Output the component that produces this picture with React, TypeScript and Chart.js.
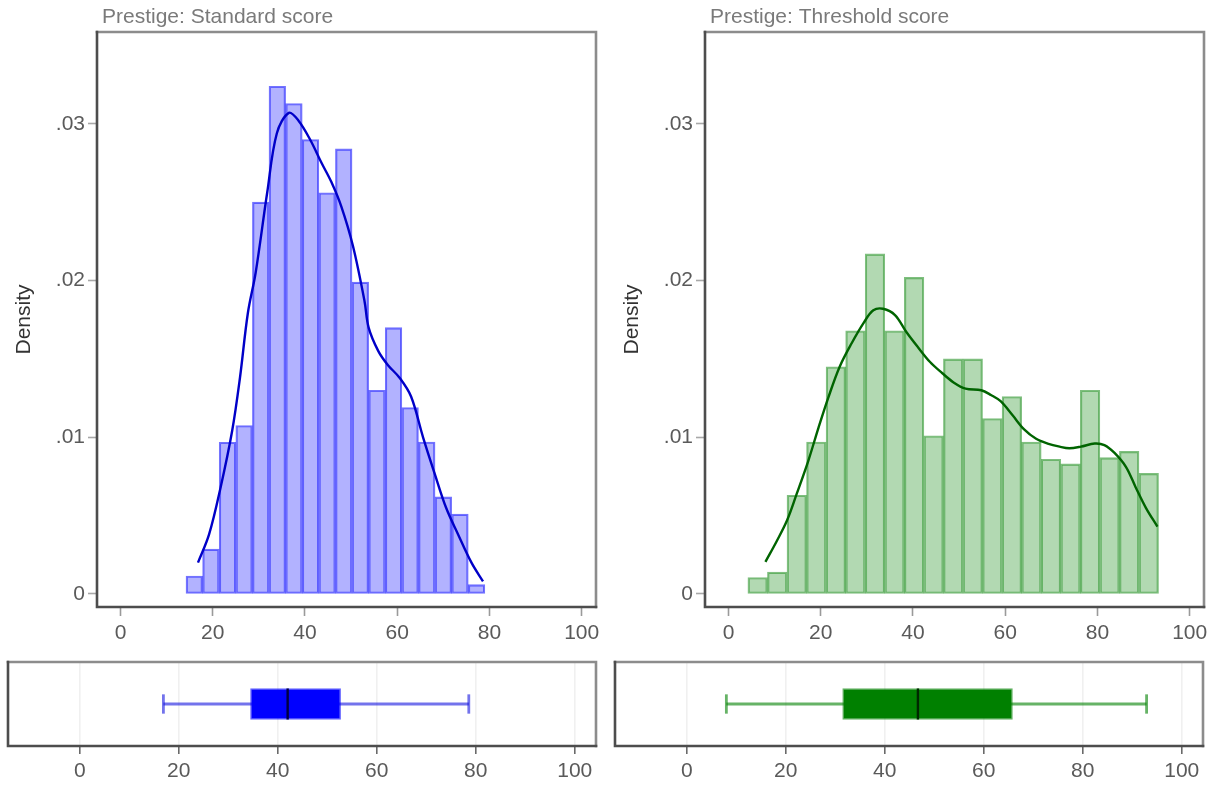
import React, { useEffect, useRef } from 'react';
import { Chart, registerables } from 'chart.js';

Chart.register(...registerables);

const FONT_FAMILY = '"Liberation Sans", Arial, Helvetica, sans-serif';

// ---------- shared axis values ----------
const X_TICKS = [0, 20, 40, 60, 80, 100];
const Y_TICKS = [0, 0.01, 0.02, 0.03];
const Y_TICK_LABELS = ['0', '.01', '.02', '.03'];
const Y_TITLE = 'Density';

// ---------- Prestige: Standard score ----------
const STD_TITLE = 'Prestige: Standard score';
const STD_BIN_EDGES = [14.2, 17.8, 21.4, 25.0, 28.6, 32.2, 35.8, 39.4, 43.0, 46.6, 50.2, 53.8, 57.4, 61.0, 64.6, 68.2, 71.8, 75.4, 79.0];
const STD_DENSITY = [0.00115, 0.00286, 0.00968, 0.01075, 0.025, 0.0324, 0.0313, 0.029, 0.0256, 0.0284, 0.0199, 0.013, 0.017, 0.0119, 0.0097, 0.0062, 0.0051, 0.0006];
const STD_KDE_X = [16.8, 19.2, 21.7, 24.2, 25.9, 27.6, 29.3, 31.8, 33.9, 36.5, 38.6, 41.1, 43.6, 45.7, 47.9, 50.4, 52.9, 53.8, 55.9, 58.0, 60.5, 63.0, 65.6, 68.1, 70.6, 73.2, 76.1, 78.6];
const STD_KDE_Y = [0.002, 0.0038, 0.0068, 0.0104, 0.0138, 0.0179, 0.0205, 0.0256, 0.0294, 0.0307, 0.0302, 0.029, 0.0275, 0.0263, 0.0247, 0.0222, 0.0187, 0.017, 0.0155, 0.0146, 0.0138, 0.0126, 0.01, 0.0077, 0.0055, 0.0038, 0.002, 0.0008];
// min, q1, median, q3, max
const STD_BOX_STATS = [16.9, 34.5, 42.0, 52.7, 78.6];

// ---------- Prestige: Threshold score ----------
const THR_TITLE = 'Prestige: Threshold score';
const THR_BIN_EDGES = [4.2, 8.44, 12.68, 16.92, 21.16, 25.4, 29.64, 33.88, 38.12, 42.36, 46.6, 50.84, 55.08, 59.32, 63.56, 67.8, 72.04, 76.28, 80.52, 84.76, 89.0, 93.24];
const THR_DENSITY = [0.00105, 0.0014, 0.0063, 0.0097, 0.0145, 0.0168, 0.0217, 0.0168, 0.0202, 0.0101, 0.015, 0.015, 0.0112, 0.0126, 0.0097, 0.0086, 0.0083, 0.013, 0.0087, 0.0091, 0.0077];
const THR_KDE_X = [8.0, 10.5, 12.7, 14.8, 17.3, 19.5, 21.6, 24.1, 26.7, 29.3, 31.4, 33.5, 36.1, 38.6, 41.2, 43.7, 46.3, 48.8, 51.4, 54.8, 56.9, 59.0, 61.6, 64.1, 66.7, 69.2, 71.8, 73.9, 76.4, 79.4, 81.5, 83.7, 86.2, 88.3, 90.5, 93.0];
const THR_KDE_Y = [0.00205, 0.0034, 0.0047, 0.0064, 0.0085, 0.0106, 0.0125, 0.0145, 0.016, 0.0173, 0.0181, 0.0182, 0.0178, 0.0167, 0.0157, 0.0148, 0.0141, 0.0135, 0.0131, 0.013, 0.0127, 0.0123, 0.0114, 0.0105, 0.0099, 0.0096, 0.0094, 0.0093, 0.0094, 0.0096, 0.0095, 0.009, 0.0081, 0.0068, 0.0055, 0.0043];
const THR_BOX_STATS = [8.0, 31.5, 46.7, 65.8, 92.9];

// ---------- layout / style constants ----------
const HIST_W = 608;
const HIST_H = 650;
const BOX_W = 608;
const BOX_H = 136;
const HIST_X_RANGE = [-5.1, 103.1];
const HIST_Y_RANGE = [-0.00083, 0.03586];
const BOX_X_RANGE = [-14.5, 104.3];
const BOX_HALF = 0.37; // half box height in y units
const CAP_HALF = 0.23; // half whisker cap height in y units
const TITLE_INDENT = 5; // px from plot-region left edge

const framePlugin = {
  id: 'stataFrame',
  afterLayout(chart: any) {
    const tb = chart.titleBlock;
    if (tb && tb.options && tb.options.display) {
      tb.left += TITLE_INDENT;
      tb.right += TITLE_INDENT;
    }
  },
  afterDatasetsDraw(chart: any) {
    const { ctx, chartArea } = chart;
    const { left, top, right, bottom } = chartArea;
    ctx.save();
    ctx.lineWidth = 2.6;
    ctx.lineCap = 'square';
    ctx.strokeStyle = '#8c8c8c';
    ctx.beginPath();
    ctx.moveTo(left, top);
    ctx.lineTo(right, top);
    ctx.lineTo(right, bottom);
    ctx.stroke();
    ctx.strokeStyle = '#4d4d4d';
    ctx.beginPath();
    ctx.moveTo(left, top);
    ctx.lineTo(left, bottom);
    ctx.lineTo(right, bottom);
    ctx.stroke();
    ctx.restore();
  },
};

const tickFont = { family: FONT_FAMILY, size: 21, weight: 'normal' as const };

type HistProps = {
  left: number;
  title: string;
  edges: number[];
  density: number[];
  kdeX: number[];
  kdeY: number[];
  fill: string;
  edge: string;
  line: string;
};

function HistPanel(p: HistProps) {
  const ref = useRef<HTMLCanvasElement>(null);
  useEffect(() => {
    const centers = p.density.map((_, i) => (p.edges[i] + p.edges[i + 1]) / 2);
    const chart = new Chart(ref.current as HTMLCanvasElement, {
      type: 'bar',
      data: {
        datasets: [
          {
            type: 'line',
            data: p.kdeX.map((x, i) => ({ x, y: p.kdeY[i] })),
            borderColor: p.line,
            borderWidth: 2.4,
            pointRadius: 0,
            tension: 0.35,
            fill: false,
            order: 0,
          } as any,
          {
            type: 'bar',
            data: centers.map((x, i) => ({ x, y: p.density[i] })),
            backgroundColor: p.fill,
            borderColor: p.edge,
            borderWidth: 1.5,
            borderSkipped: false,
            barPercentage: 1,
            categoryPercentage: 1,
            order: 1,
          } as any,
        ],
      },
      options: {
        animation: false,
        responsive: false,
        layout: { padding: { left: 0, right: 12, top: 0, bottom: 0 } },
        plugins: {
          legend: { display: false },
          tooltip: { enabled: false },
          title: {
            display: true,
            text: p.title,
            align: 'start',
            fullSize: false,
            color: '#7a7a7a',
            font: { family: FONT_FAMILY, size: 21, weight: 'normal' },
            padding: { top: 5, bottom: 1.8 },
          },
        },
        scales: {
          x: {
            type: 'linear',
            min: HIST_X_RANGE[0],
            max: HIST_X_RANGE[1],
            offset: false,
            afterBuildTicks: (s: any) => {
              s.ticks = X_TICKS.map((v) => ({ value: v }));
            },
            afterFit: (s: any) => {
              s.height = 43;
            },
            grid: {
              offset: false,
              drawOnChartArea: false,
              drawTicks: true,
              tickLength: 9,
              tickColor: '#9a9a9a',
              tickWidth: 1.6,
            },
            border: { display: false },
            ticks: {
              color: '#5a5a5a',
              font: tickFont,
              padding: 5,
              maxRotation: 0,
              autoSkip: false,
            },
          },
          y: {
            type: 'linear',
            min: HIST_Y_RANGE[0],
            max: HIST_Y_RANGE[1],
            offset: false,
            afterBuildTicks: (s: any) => {
              s.ticks = Y_TICKS.map((v) => ({ value: v }));
            },
            afterFit: (s: any) => {
              s.width = 97;
            },
            grid: {
              offset: false,
              drawOnChartArea: false,
              drawTicks: true,
              tickLength: 9,
              tickColor: '#a8a8a8',
              tickWidth: 1.6,
            },
            border: { display: false },
            ticks: {
              color: '#5a5a5a',
              font: tickFont,
              padding: 3,
              autoSkip: false,
              callback: (v: any) => {
                const i = Y_TICKS.indexOf(Number(v));
                return i >= 0 ? Y_TICK_LABELS[i] : '';
              },
            },
            title: {
              display: true,
              text: Y_TITLE,
              color: '#333333',
              font: { family: FONT_FAMILY, size: 21, weight: 'normal' },
              padding: { top: 12, bottom: 0 },
            },
          },
        },
      } as any,
      plugins: [framePlugin],
    });
    return () => chart.destroy();
  }, []);
  return (
    <canvas
      ref={ref}
      width={HIST_W}
      height={HIST_H}
      style={{ position: 'absolute', left: p.left, top: 0, width: HIST_W, height: HIST_H, display: 'block' }}
    />
  );
}

type BoxProps = {
  left: number;
  top: number;
  stats: number[];
  boxFill: string;
  boxEdge: string;
  whisker: string;
  median: string;
};

function BoxPanel(p: BoxProps) {
  const ref = useRef<HTMLCanvasElement>(null);
  useEffect(() => {
    const [mn, q1, med, q3, mx] = p.stats;
    const lineDs = (data: { x: number; y: number }[], color: string, width: number, order: number) =>
      ({
        type: 'line',
        data,
        borderColor: color,
        borderWidth: width,
        pointRadius: 0,
        fill: false,
        order,
      } as any);
    const chart = new Chart(ref.current as HTMLCanvasElement, {
      type: 'bar',
      data: {
        datasets: [
          lineDs([{ x: mn, y: 0 }, { x: mx, y: 0 }], p.whisker, 2.8, 3),
          lineDs([{ x: mn, y: -CAP_HALF }, { x: mn, y: CAP_HALF }], p.whisker, 2.8, 3),
          lineDs([{ x: mx, y: -CAP_HALF }, { x: mx, y: CAP_HALF }], p.whisker, 2.8, 3),
          {
            type: 'bar',
            indexAxis: 'y',
            data: [{ x: [q1, q3], y: 0 }],
            backgroundColor: p.boxFill,
            borderColor: p.boxEdge,
            borderWidth: 1.5,
            borderSkipped: false,
            barThickness: 31,
            order: 1,
          } as any,
          lineDs([{ x: med, y: -BOX_HALF }, { x: med, y: BOX_HALF }], p.median, 2.4, 0),
        ],
      },
      options: {
        animation: false,
        responsive: false,
        layout: { padding: { left: 8, right: 12, top: 12, bottom: 0 } },
        plugins: {
          legend: { display: false },
          tooltip: { enabled: false },
          title: { display: false },
        },
        scales: {
          x: {
            type: 'linear',
            min: BOX_X_RANGE[0],
            max: BOX_X_RANGE[1],
            offset: false,
            afterBuildTicks: (s: any) => {
              s.ticks = X_TICKS.map((v) => ({ value: v }));
            },
            afterFit: (s: any) => {
              s.height = 40;
            },
            grid: {
              offset: false,
              drawOnChartArea: true,
              color: '#f0f0f0',
              lineWidth: 1.6,
              drawTicks: true,
              tickLength: 8,
              tickColor: '#6a6a6a',
              tickWidth: 1.6,
            },
            border: { display: false },
            ticks: {
              color: '#5a5a5a',
              font: tickFont,
              padding: 5,
              maxRotation: 0,
              autoSkip: false,
            },
          },
          y: {
            type: 'linear',
            min: -1,
            max: 1,
            offset: false,
            display: false,
          },
        },
      } as any,
      plugins: [framePlugin],
    });
    return () => chart.destroy();
  }, []);
  return (
    <canvas
      ref={ref}
      width={BOX_W}
      height={BOX_H}
      style={{ position: 'absolute', left: p.left, top: p.top, width: BOX_W, height: BOX_H, display: 'block' }}
    />
  );
}

export default function App() {
  return (
    <div style={{ position: 'absolute', left: 0, top: 0, width: 1217, height: 786, background: '#ffffff', overflow: 'hidden' }}>
      <HistPanel
        left={0}
        title={STD_TITLE}
        edges={STD_BIN_EDGES}
        density={STD_DENSITY}
        kdeX={STD_KDE_X}
        kdeY={STD_KDE_Y}
        fill="rgba(0,0,255,0.3)"
        edge="rgba(0,0,255,0.55)"
        line="#0000c8"
      />
      <HistPanel
        left={608}
        title={THR_TITLE}
        edges={THR_BIN_EDGES}
        density={THR_DENSITY}
        kdeX={THR_KDE_X}
        kdeY={THR_KDE_Y}
        fill="rgba(0,128,0,0.3)"
        edge="rgba(0,128,0,0.5)"
        line="#006400"
      />
      <BoxPanel
        left={0}
        top={650}
        stats={STD_BOX_STATS}
        boxFill="#0000ff"
        boxEdge="rgba(0,0,255,0.6)"
        whisker="rgba(0,0,220,0.55)"
        median="#000040"
      />
      <BoxPanel
        left={607}
        top={650}
        stats={THR_BOX_STATS}
        boxFill="#008000"
        boxEdge="rgba(0,128,0,0.6)"
        whisker="rgba(0,128,0,0.6)"
        median="#002800"
      />
    </div>
  );
}
